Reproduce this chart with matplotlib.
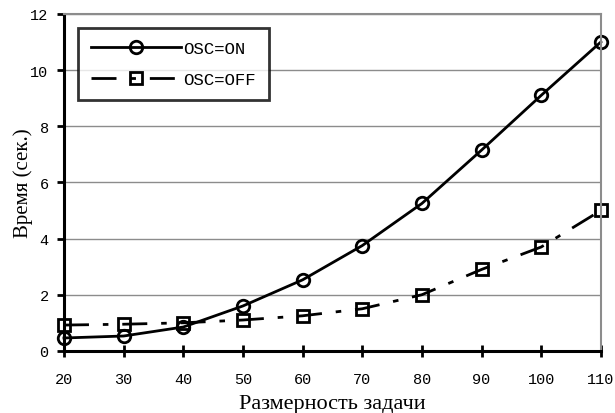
import matplotlib
matplotlib.use("Agg")
import matplotlib.pyplot as plt

sizes = [20, 30, 40, 50, 60, 70, 80, 90, 100, 110]
osc_on = [0.46, 0.53, 0.85, 1.6, 2.53, 3.75, 5.25, 7.15, 9.1, 11.0]
osc_off = [0.92, 0.95, 1.0, 1.1, 1.25, 1.5, 2.0, 2.9, 3.7, 5.0]
labels = ["OSC=ON", "OSC=OFF"]

fig = plt.figure(figsize=(6.15, 4.14), dpi=100)
ax = fig.add_axes([0.104, 0.150, 0.873, 0.814])

ax.plot(sizes, osc_on, color="black", lw=2, marker="o", ms=9,
        mfc="none", mew=2, label=labels[0], clip_on=False)
ax.plot(sizes, osc_off, color="black", lw=2, marker="s", ms=8,
        mfc="none", mew=2, dashes=(9, 5, 2, 5), label=labels[1],
        clip_on=False)

ax.set_xlim(20, 110)
ax.set_ylim(0, 12)
ax.set_xticks(sizes)
ax.set_yticks(range(0, 13, 2))
ax.yaxis.grid(True, color="#8c8c8c", lw=1)
ax.set_axisbelow(True)

for s in ["left", "bottom"]:
    ax.spines[s].set_linewidth(2.2)
    ax.spines[s].set_color("black")
for s in ["right", "top"]:
    ax.spines[s].set_linewidth(1.5)
    ax.spines[s].set_color("#8c8c8c")

ax.tick_params(axis="x", direction="inout", length=8, width=2, pad=11)
ax.tick_params(axis="y", direction="out", length=5, width=2, pad=6)
for t in ax.get_xticklabels() + ax.get_yticklabels():
    t.set_family("Liberation Mono")
    t.set_fontsize(11)

ax.set_xlabel("Размерность задачи", family="Liberation Serif", fontsize=16, labelpad=6)
ax.set_ylabel("Время (сек.)", family="Liberation Serif", fontsize=15, labelpad=-2)

leg = ax.legend(loc="upper left", bbox_to_anchor=(0.01, 0.985),
                prop={"family": "Liberation Mono", "size": 12.5},
                frameon=True, fancybox=False, edgecolor="black",
                handlelength=5.2, handletextpad=0.1, borderpad=0.75,
                labelspacing=0.95)
leg.get_frame().set_linewidth(2)

fig.savefig("out.png", dpi=100)
